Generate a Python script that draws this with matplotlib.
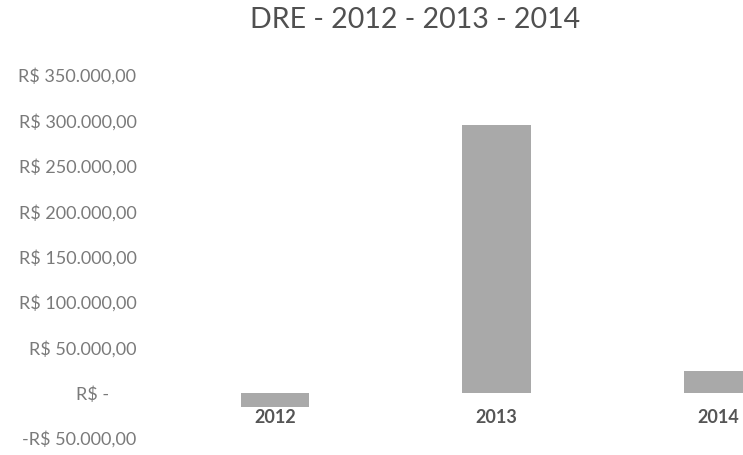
import matplotlib.pyplot as plt
from matplotlib.ticker import FuncFormatter, MultipleLocator

years = ['2012', '2013', '2014']
resultado = [-16000, 295000, 24000]

plt.rcParams['font.family'] = ['Lato', 'DejaVu Sans']


def brl(v, pos):
    if v == 0:
        return 'R$ -      '
    s = '{:,.2f}'.format(abs(v)).replace(',', 'X').replace('.', ',').replace('X', '.')
    return ('-R$ ' if v < 0 else 'R$ ') + s


fig = plt.figure(figsize=(7.43, 4.55), dpi=100)
ax = fig.add_axes([0.221, 0.037, 0.779, 0.798])

x = list(range(len(years)))
ax.bar(x, resultado, width=0.31, color='#a9a9a9')

ax.set_xlim(-0.5, 2.113)
ax.set_ylim(-50000, 350000)
ax.yaxis.set_major_locator(MultipleLocator(50000))
ax.yaxis.set_major_formatter(FuncFormatter(brl))

for s in ['top', 'right', 'left']:
    ax.spines[s].set_visible(False)
ax.spines['bottom'].set_position(('data', 0))
ax.spines['bottom'].set_visible(False)

ax.set_xticks(x)
ax.set_xticklabels(years, fontsize=13, fontweight='bold', color='#555555')
ax.tick_params(axis='x', length=0, pad=12)
ax.tick_params(axis='y', length=0, pad=20, labelsize=13, labelcolor='#7a7a7a')

fig.suptitle('DRE - 2012 - 2013 - 2014', fontsize=20.5, color='#505050', x=0.558, y=0.985)

fig.savefig('out.png', dpi=100)
